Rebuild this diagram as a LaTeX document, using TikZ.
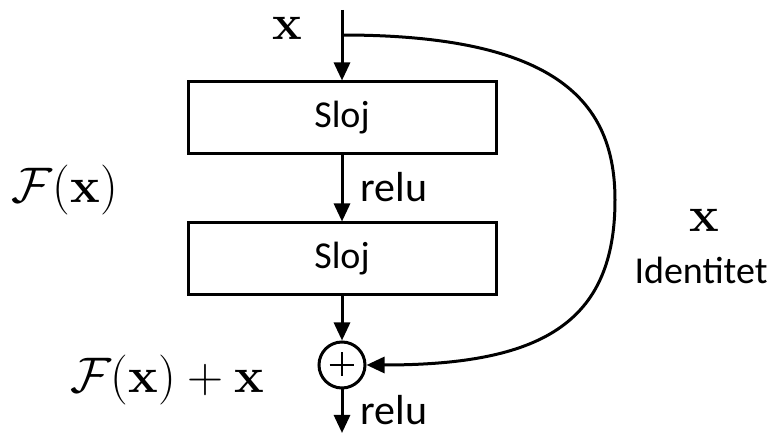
\RequirePackage{fix-cm}
\documentclass[tikz,border=0pt]{standalone}
\usepackage{amsmath}
\usepackage{amssymb}
\usepackage[no-math]{fontspec}
\setmainfont{Carlito}
\usepackage{tikz}
\usetikzlibrary{arrows.meta,positioning}

\begin{document}
\begin{tikzpicture}[x=1pt,y=1pt,line width=3pt,>={Triangle[length=18pt,width=16pt]},
	layer/.style={draw, minimum width=308pt, minimum height=72pt, inner sep=0pt, font=\fontsize{38}{44}\selectfont},
	txt/.style={fill=none, draw=none, inner sep=1pt, font=\fontsize{38}{44}\selectfont},
	act/.style={fill=none, draw=none, inner sep=1pt, anchor=west, font=\fontsize{42}{48}\selectfont},
	bigmath/.style={fill=none, draw=none, inner sep=1pt, font=\fontsize{50}{60}\selectfont}]
	\useasboundingbox (0,0) rectangle (772,434);
	\coordinate (I) at (342,424);
	\coordinate (J) at (342,399);
	\node [layer] (A) at (342,316) {Sloj};
	\node [layer] (B) at (342,175) {Sloj};
	\node [draw, circle, minimum size=46pt, inner sep=0pt] (C) at (342,69) {};
	\draw [line width=2.5pt] (C.north) ++(0,-12) -- ++(0,-24) (C.west) ++(12,0) -- ++(24,0);
	\coordinate (O) at (342,1);
	\node [bigmath] (X) at (287,406) {$\mathbf{x}$};
	\node [act] (R) at (358,247) {relu};
	\node [act] (S) at (358,24) {relu};
	\node [bigmath] (F) at (65,244) {$\mathcal{F}(\mathbf{x})$};
	\node [bigmath] (G) at (167,54) {$\mathcal{F}(\mathbf{x})+\mathbf{x}$};
	\node [bigmath] (Y) at (704,214) {$\mathbf{x}$};
	\node [txt] (Z) at (701,164) {Identitet};
	\path [->] (I) edge (A);
	\path [->] (A) edge (B);
	\path [->] (B) edge (C);
	\path [->] (C) edge (O);
	\draw [->] (J) .. controls (560,399) and (615,330) .. (615,234) .. controls (615,110) and (540,69) .. (C.east);
\end{tikzpicture}
\end{document}
